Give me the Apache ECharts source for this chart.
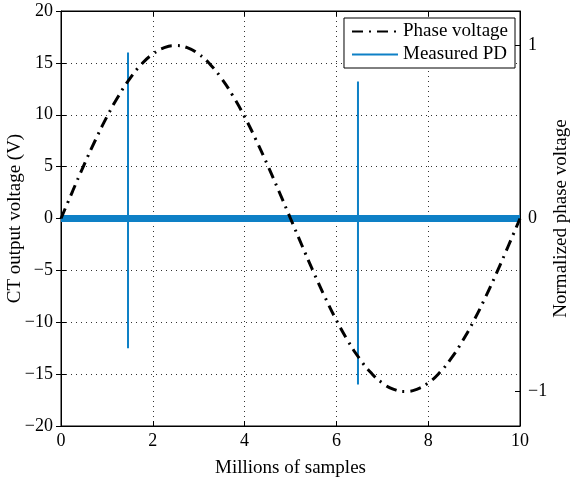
<!DOCTYPE html>
<html><head><meta charset="utf-8">
<script src="https://cdn.jsdelivr.net/npm/echarts@6/dist/echarts.min.js"></script>
<style>html,body{margin:0;padding:0;background:#fff}#c{width:570px;height:479px}</style>
</head><body><div id="c"></div>
<script>
// Phase voltage (normalized), x in millions of samples
const phaseX = [0,0.25,0.5,0.75,1,1.25,1.5,1.75,2,2.25,2.5,2.75,3,3.25,3.5,3.75,4,4.25,4.5,4.75,5,5.25,5.5,5.75,6,6.25,6.5,6.75,7,7.25,7.5,7.75,8,8.25,8.5,8.75,9,9.25,9.5,9.75,10];
const phaseY = [0,0.156,0.309,0.454,0.588,0.707,0.809,0.891,0.951,0.988,1,0.988,0.951,0.891,0.809,0.707,0.588,0.454,0.309,0.156,0,-0.156,-0.309,-0.454,-0.588,-0.707,-0.809,-0.891,-0.951,-0.988,-1,-0.988,-0.951,-0.891,-0.809,-0.707,-0.588,-0.454,-0.309,-0.156,0];
// Measured PD pulses (CT output voltage, V)
const pdX = [0,1.46,1.46,1.46,1.46,6.47,6.47,6.47,6.47,10];
const pdY = [0,0,16,-12.5,0,0,13.2,-16,0,0];
// PD noise floor (band around 0 V)
const noiseX = [0,10];
const noiseY = [0,0];
const xTicks = [0,2,4,6,8,10];
const leftTicks = [-20,-15,-10,-5,0,5,10,15,20];
const rightTicks = [-1,0,1];

const font = 'Liberation Serif';
const minus = v => String(v).replace('-', '\u2212');
const chart = echarts.init(document.getElementById('c'));
const tickStyle = {show: true, inside: true, length: 5, lineStyle: {color: '#000'}};
chart.setOption({
  animation: false,
  grid: {left: 61, right: 50, top: 11, bottom: 53, outerBoundsMode: 'none', containLabel: false,
         show: true, borderColor: '#000', borderWidth: 1, backgroundColor: 'transparent'},
  legend: {
    right: 55, top: 18, orient: 'vertical', itemGap: 4, itemWidth: 46, itemHeight: 12,
    borderColor: '#000', borderWidth: 1, padding: [4, 7, 4, 7], backgroundColor: '#fff',
    itemStyle: {opacity: 0},
    textStyle: {fontFamily: font, fontSize: 19, color: '#000'},
    data: ['Phase voltage', 'Measured PD']
  },
  xAxis: [{
    type: 'value', min: 0, max: 10, interval: 2, position: 'bottom',
    name: 'Millions of samples', nameLocation: 'middle', nameGap: 33, nameMoveOverlap: false,
    nameTextStyle: {fontFamily: font, fontSize: 19, color: '#000'},
    axisLine: {show: true, onZero: false, lineStyle: {color: '#000'}},
    axisTick: tickStyle,
    axisLabel: {fontFamily: font, fontSize: 18, color: '#000', margin: 6},
    splitLine: {show: true, lineStyle: {color: '#333', type: [1, 4], width: 1}}
  }, {
    type: 'value', min: 0, max: 10, interval: 2, position: 'top',
    axisLine: {show: true, onZero: false, lineStyle: {color: '#000'}},
    axisTick: tickStyle, axisLabel: {show: false}, splitLine: {show: false}
  }],
  yAxis: [{
    type: 'value', min: -20, max: 20, interval: 5, position: 'left',
    name: 'CT output voltage (V)', nameLocation: 'middle', nameGap: 36, nameRotate: 90, nameMoveOverlap: false,
    nameTextStyle: {fontFamily: font, fontSize: 19, color: '#000'},
    axisLine: {show: true, onZero: false, lineStyle: {color: '#000'}},
    axisTick: tickStyle,
    axisLabel: {fontFamily: font, fontSize: 18, color: '#000', margin: 8, formatter: minus},
    splitLine: {show: true, lineStyle: {color: '#333', type: [1, 4], width: 1}}
  }, {
    type: 'value', min: -1.2, max: 1.2, position: 'right',
    name: 'Normalized phase voltage', nameLocation: 'middle', nameGap: 32, nameRotate: 90, nameMoveOverlap: false,
    nameTextStyle: {fontFamily: font, fontSize: 19, color: '#000'},
    axisLine: {show: true, onZero: false, lineStyle: {color: '#000'}},
    axisTick: {show: true, inside: true, length: 5, customValues: rightTicks, lineStyle: {color: '#000'}},
    axisLabel: {fontFamily: font, fontSize: 18, color: '#000', margin: 8, customValues: rightTicks, formatter: minus},
    splitLine: {show: false}
  }, {
    type: 'value', min: -20, max: 20, interval: 5, position: 'right',
    axisLine: {show: false}, axisTick: tickStyle, axisLabel: {show: false}, splitLine: {show: false}
  }],
  series: [{
    name: 'Measured PD', type: 'line', xAxisIndex: 0, yAxisIndex: 0, symbol: 'none',
    data: pdX.map((x, i) => [x, pdY[i]]),
    lineStyle: {color: '#0e80c6', width: 2}, itemStyle: {color: '#0e80c6'}, z: 2
  }, {
    name: 'Measured PD', type: 'line', xAxisIndex: 0, yAxisIndex: 0, symbol: 'none',
    data: noiseX.map((x, i) => [x, noiseY[i]]),
    lineStyle: {color: '#0e80c6', width: 7}, itemStyle: {color: '#0e80c6'}, z: 2
  }, {
    name: 'Phase voltage', type: 'line', xAxisIndex: 0, yAxisIndex: 1, symbol: 'none', smooth: true,
    data: phaseX.map((x, i) => [x, phaseY[i]]),
    lineStyle: {color: '#000', width: 3, type: [11, 6, 2, 6]}, itemStyle: {color: '#000'}, z: 3
  }]
});
</script></body></html>
